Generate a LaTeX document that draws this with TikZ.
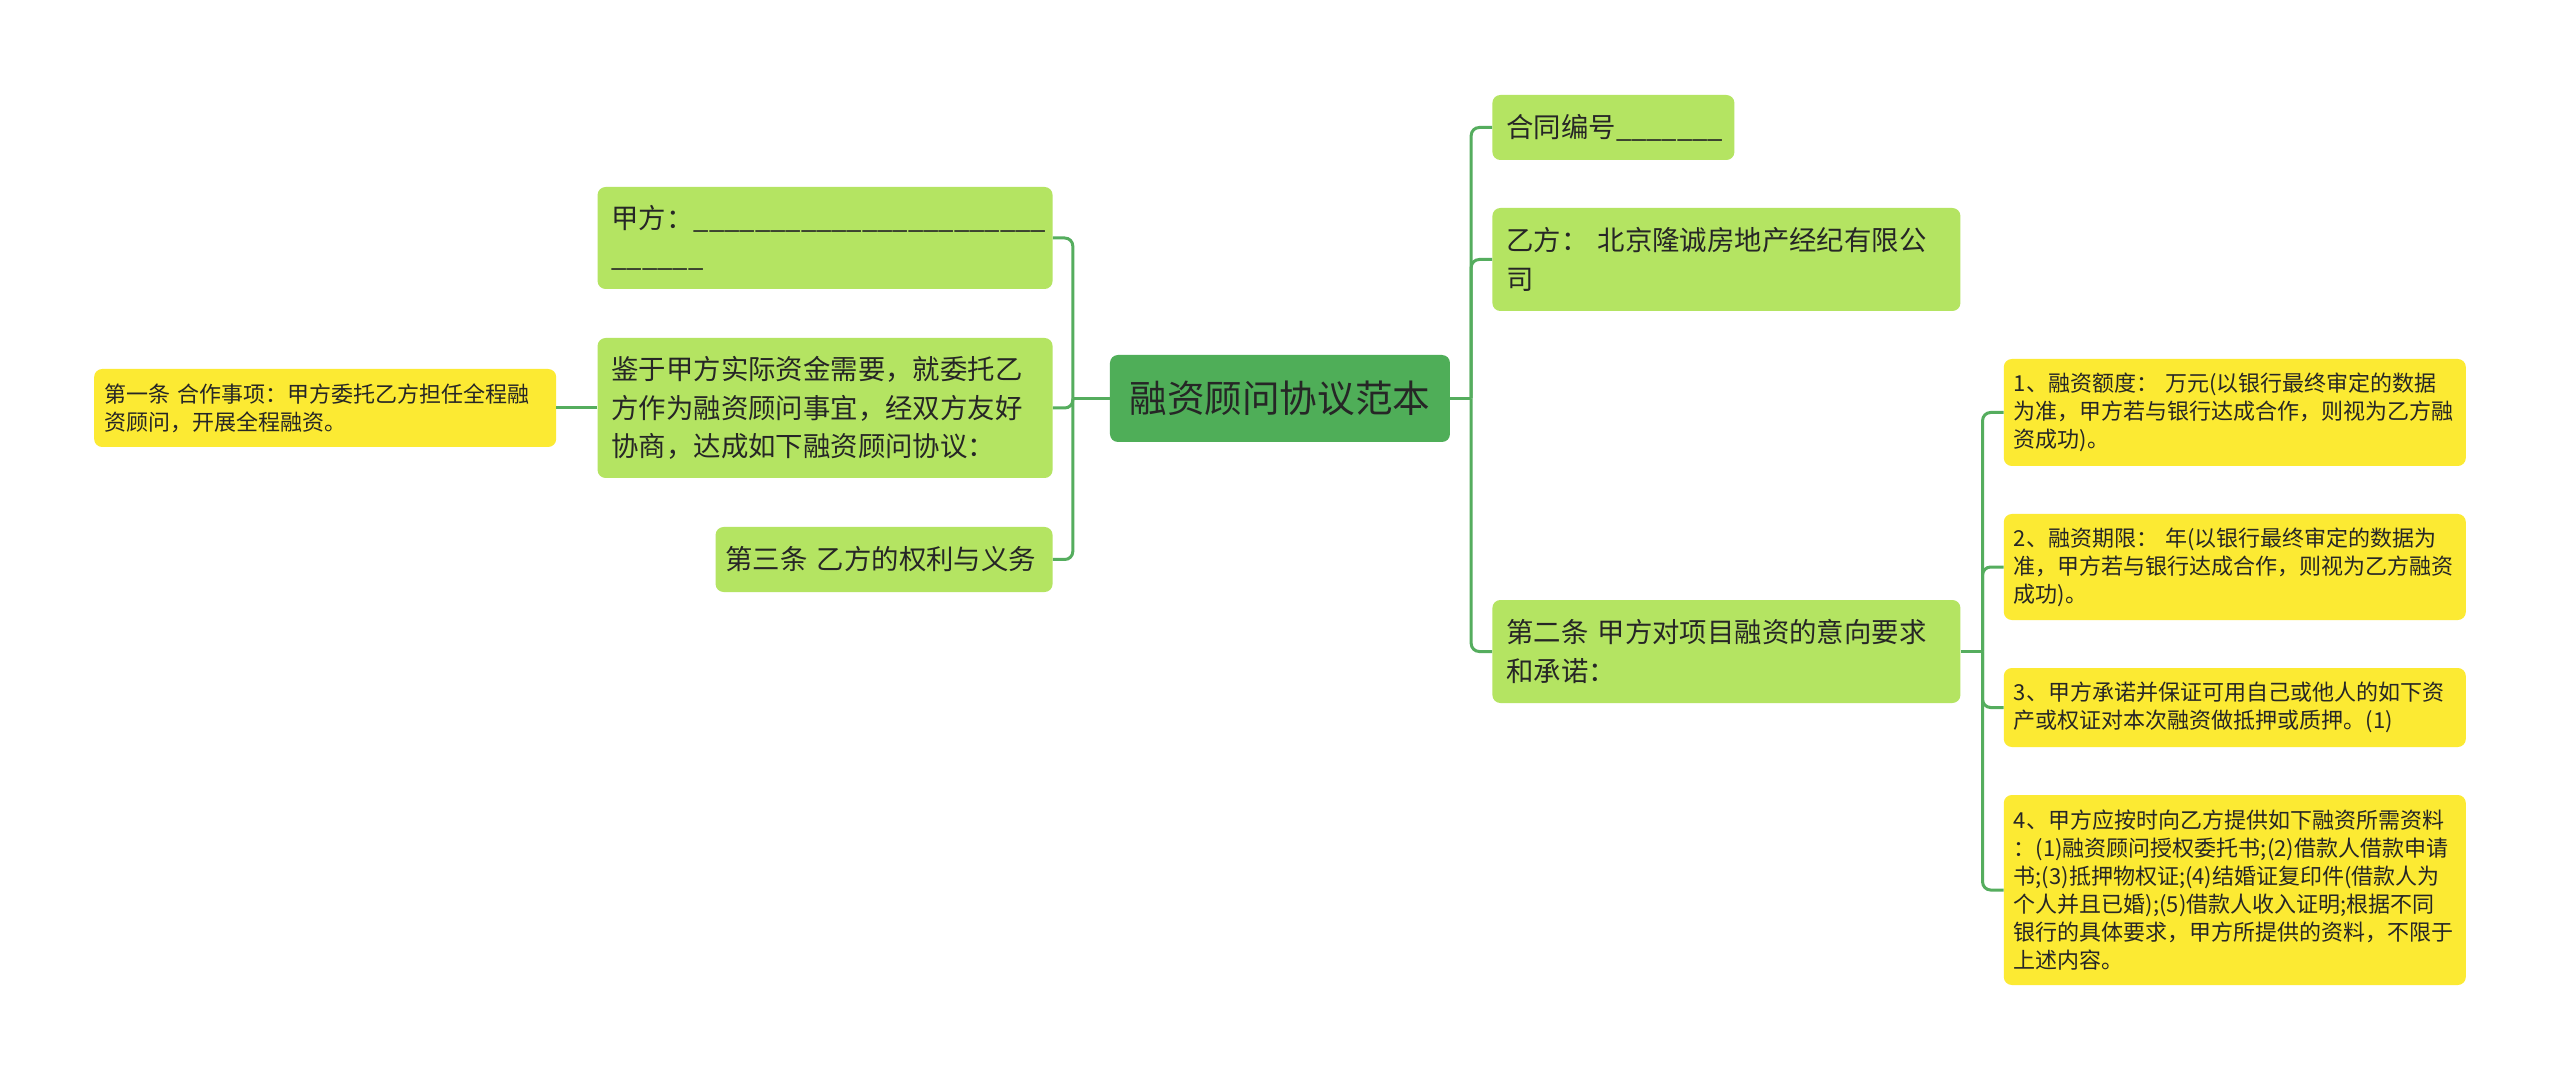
\documentclass[tikz,border=0pt]{standalone}
\usepackage{fontspec}
\setmainfont{Noto Sans CJK SC}
\usepackage{xcolor}
\usepackage{tikz}
\usetikzlibrary{positioning}
\definecolor{rootgreen}{HTML}{4FAE58}
\definecolor{leafgreen}{HTML}{B4E462}
\definecolor{noteyellow}{HTML}{FCEA33}
\definecolor{linegreen}{HTML}{55AD5E}
\definecolor{inktext}{HTML}{262626}
\newcommand{\blankline}[1]{\foreach \i in {1,...,#1}{\_}}

\begin{document}
\begin{tikzpicture}[
  x=1pt, y=1pt,
  box/.style={rounded corners=8pt, align=left, text=inktext, inner ysep=6pt},
  root/.style={box, fill=rootgreen, align=center, minimum width=340pt, minimum height=87pt,
               font=\fontsize{37.6pt}{45pt}\selectfont},
  topic/.style={box, fill=leafgreen, inner xsep=14pt, font=\fontsize{27.4pt}{38.5pt}\selectfont},
  note/.style={box, fill=noteyellow, inner xsep=10pt, font=\fontsize{22pt}{28pt}\selectfont},
  conn/.style={draw=linegreen, line width=3pt, rounded corners=8pt}
]
\useasboundingbox[fill=white] (-1280,-682.5) rectangle (1280,398.5);
\node[root] (root) at (0,0) {融资顾问协议范本};
\node[topic, left=57pt of root, yshift=160.5pt, text width=427pt, minimum height=102pt] (jia)
     {甲方：\blankline{23}\\\blankline{6}};
\node[topic, left=57pt of root, yshift=-9.5pt, text width=427pt, minimum height=140pt] (jianyu)
     {鉴于甲方实际资金需要，就委托乙\\方作为融资顾问事宜，经双方友好\\协商，达成如下融资顾问协议：};
\node[topic, left=57pt of root, yshift=-161pt, inner xsep=10pt, text width=317pt, minimum height=65pt] (tiao3)
     {第三条 乙方的权利与义务};
\node[note, left=41pt of jianyu, text width=442pt, minimum height=78pt] (tiao1)
     {第一条 合作事项：甲方委托乙方担任全程融\\资顾问，开展全程融资。};
\node[topic, right=42pt of root, yshift=271pt, text width=214pt, minimum height=65pt] (bianhao)
     {合同编号\blankline{7}};
\node[topic, right=42pt of root, yshift=139pt, text width=440pt, minimum height=103pt] (yifang)
     {乙方： 北京隆诚房地产经纪有限公\\司};
\node[topic, right=42pt of root, yshift=-253pt, text width=440pt, minimum height=103pt] (tiao2)
     {第二条 甲方对项目融资的意向要求\\和承诺：};
\node[note, right=43pt of tiao2, yshift=239pt, text width=442pt, minimum height=107pt] (edu)
     {1、融资额度： 万元(以银行最终审定的数据\\为准，甲方若与银行达成合作，则视为乙方融\\资成功)。};
\node[note, right=43pt of tiao2, yshift=84.5pt, text width=442pt, minimum height=106pt] (qixian)
     {2、融资期限： 年(以银行最终审定的数据为\\准，甲方若与银行达成合作，则视为乙方融资\\成功)。};
\node[note, right=43pt of tiao2, yshift=-56pt, text width=442pt, minimum height=79pt] (diya)
     {3、甲方承诺并保证可用自己或他人的如下资\\产或权证对本次融资做抵押或质押。(1)};
\node[note, right=43pt of tiao2, yshift=-238.5pt, text width=442pt, minimum height=190pt] (ziliao)
     {4、甲方应按时向乙方提供如下融资所需资料\\：(1)融资顾问授权委托书;(2)借款人借款申请\\书;(3)抵押物权证;(4)结婚证复印件(借款人为\\个人并且已婚);(5)借款人收入证明;根据不同\\银行的具体要求，甲方所提供的资料，不限于\\上述内容。};
\coordinate[left=37pt of root] (lj);
\coordinate[right=21pt of root] (rj);
\coordinate[right=22pt of tiao2] (qj);
\draw[conn] (root.west) -- (lj);
\foreach \n in {jia,jianyu,tiao3} \draw[conn] (\n.east) -| (lj);
\draw[conn] (jianyu.west) -- (tiao1.east);
\draw[conn] (root.east) -- (rj);
\foreach \n in {bianhao,yifang,tiao2} \draw[conn] (rj) |- (\n.west);
\draw[conn] (tiao2.east) -- (qj);
\foreach \n in {edu,qixian,diya,ziliao} \draw[conn] (qj) |- (\n.west);
\end{tikzpicture}
\end{document}
